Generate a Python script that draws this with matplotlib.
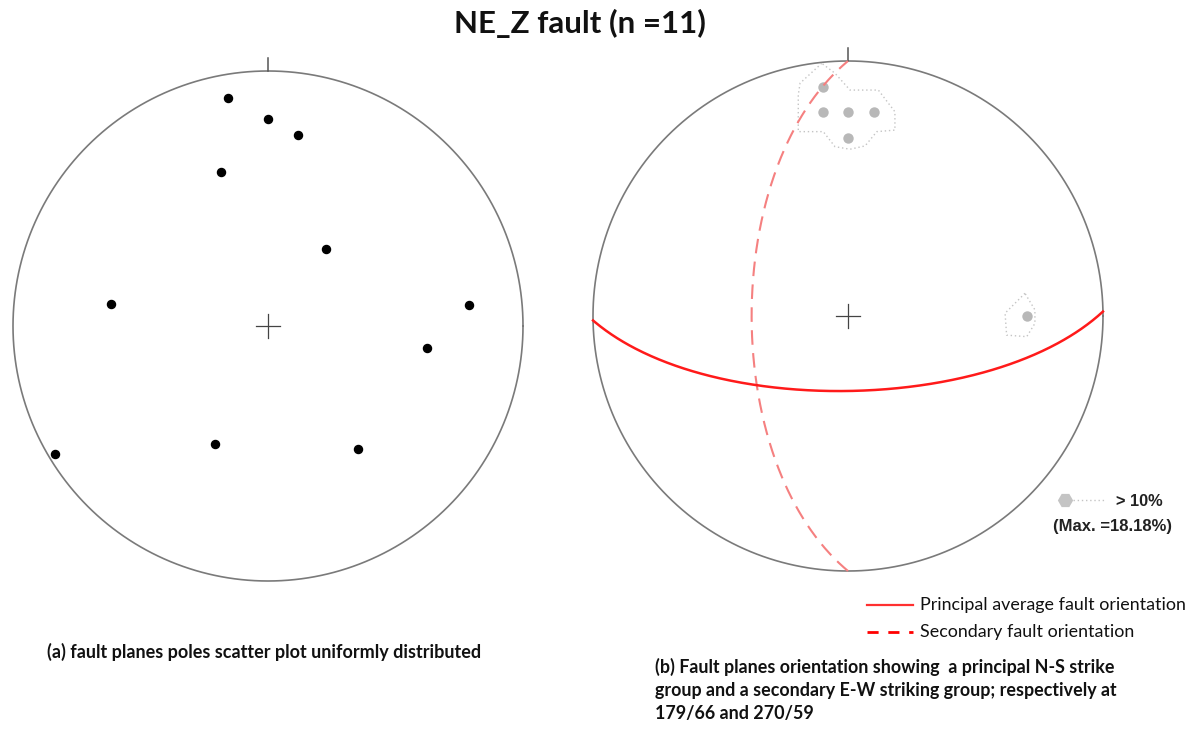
import numpy as np
import matplotlib
matplotlib.use("Agg")
import matplotlib.pyplot as plt
from matplotlib.lines import Line2D

# ---- data -------------------------------------------------------------
# (a) poles to fault planes: trend / plunge in degrees
pole_trend = [350, 0, 9, 343, 37, 278, 84, 98, 204, 144, 239]
pole_plunge = [10, 20, 25, 37, 59, 38, 22, 37, 48, 40, 3]

# (b) mean planes: dip direction / dip in degrees
principal_plane = (179, 66)
secondary_plane = (270, 59)

# (b) counting-grid nodes above the 10 % contour (net coordinates, E / N)
node_east = [-0.10, -0.10, 0.00, 0.10, 0.00, 0.70]
node_north = [0.90, 0.80, 0.80, 0.80, 0.70, 0.00]

# (b) 10 % density contour outlines (net coordinates, E / N)
contour_north_e = [-0.103, -0.188, -0.195, -0.195, -0.097, -0.051, 0.008, 0.067,
                   0.113, 0.184, 0.184, 0.119, 0.008, -0.051, -0.103]
contour_north_n = [0.991, 0.913, 0.867, 0.723, 0.723, 0.664, 0.654, 0.667,
                   0.723, 0.729, 0.801, 0.886, 0.886, 0.952, 0.991]
contour_east_e = [0.694, 0.616, 0.622, 0.701, 0.733, 0.733, 0.694]
contour_east_n = [0.089, 0.011, -0.075, -0.081, -0.029, 0.024, 0.089]

title = "NE_Z fault (n =11)"
caption_a = "(a) fault planes poles scatter plot uniformly distributed"
caption_b = ("(b) Fault planes orientation showing  a principal N-S strike\n"
             "group and a secondary E-W striking group; respectively at\n"
             "179/66 and 270/59")
legend_labels = ["Principal average fault orientation", "Secondary fault orientation"]
contour_label = "> 10%"
max_label = "(Max. =18.18%)"


# ---- equal-area (Schmidt) lower-hemisphere projection -----------------
def project(trend, plunge):
    t = np.radians(np.asarray(trend, float))
    p = np.radians(np.asarray(plunge, float))
    r = np.sqrt(2.0) * np.sin((np.pi / 2 - p) / 2)
    return r * np.sin(t), r * np.cos(t)


def great_circle(dip_dir, dip, n=361):
    dd, d = np.radians(dip_dir), np.radians(dip)
    s = dd - np.pi / 2
    a = np.linspace(0, np.pi, n)
    strike_v = np.array([np.sin(s), np.cos(s), 0.0])
    dip_v = np.array([np.cos(d) * np.sin(dd), np.cos(d) * np.cos(dd), np.sin(d)])
    v = np.outer(np.cos(a), strike_v) + np.outer(np.sin(a), dip_v)
    trend = np.degrees(np.arctan2(v[:, 0], v[:, 1]))
    plunge = np.degrees(np.arcsin(np.clip(v[:, 2], -1, 1)))
    return project(trend, plunge)


def draw_net(ax):
    th = np.linspace(0, 2 * np.pi, 721)
    ax.plot(np.cos(th), np.sin(th), color="#7a7a7a", lw=1.2, clip_on=False)
    ax.plot([0, 0], [1.0, 1.05], color="#555555", lw=1.1, clip_on=False)
    c = 0.047
    ax.plot([-c, c], [0, 0], color="#444444", lw=0.9)
    ax.plot([0, 0], [-c, c], color="#444444", lw=0.9)
    ax.set_xlim(-1, 1)
    ax.set_ylim(-1, 1)
    ax.axis("off")


W, H = 1192, 731
fig = plt.figure(figsize=(W / 100, H / 100), dpi=100)
fig.patch.set_facecolor("white")

R = 255
ax_a = fig.add_axes([(268 - R) / W, (H - 326 - R) / H, 2 * R / W, 2 * R / H])
ax_b = fig.add_axes([(848 - R) / W, (H - 316 - R) / H, 2 * R / W, 2 * R / H])

# (a) pole scatter
draw_net(ax_a)
px, py = project(pole_trend, pole_plunge)
ax_a.plot(px, py, "o", color="black", ms=5.8, clip_on=False)

# (b) contours and mean planes
draw_net(ax_b)
ax_b.plot(contour_north_e, contour_north_n, ls=(0, (1, 2)), color="#c4c4c4", lw=1.0)
ax_b.plot(contour_east_e, contour_east_n, ls=(0, (1, 2)), color="#c4c4c4", lw=1.0)
ax_b.plot(node_east, node_north, "o", color="#b8b8b8", ms=7.5, mec="none")
sx, sy = great_circle(*secondary_plane)
ax_b.plot(sx, sy, color="#f58080", lw=1.5, ls=(0, (7, 4)), clip_on=False)
gx, gy = great_circle(*principal_plane)
ax_b.plot(gx, gy, color="#ff1a1a", lw=1.8, clip_on=False)

# contour key
fig.add_artist(Line2D([1073 / W, 1104 / W], [1 - 500 / H] * 2, color="#c4c4c4",
                      lw=1.0, ls=(0, (1, 2))))
fig.add_artist(Line2D([1065 / W], [1 - 500 / H], marker="H", color="#c4c4c4",
                      ms=11, mec="none"))
fig.text(1116 / W, 1 - 502 / H, contour_label, fontsize=11.8, fontweight="bold",
         family="Liberation Sans", va="center", ha="left", color="#222222")
fig.text(1053 / W, 1 - 527 / H, max_label, fontsize=12, fontweight="bold",
         family="Liberation Sans", va="center", ha="left", color="#222222")

# legend
fig.add_artist(Line2D([867 / W, 913 / W], [1 - 605 / H] * 2, color="#ff3030", lw=1.6))
fig.add_artist(Line2D([867 / W, 913 / W], [1 - 632 / H] * 2, color="#ff0000", lw=2.0,
                      ls=(0, (4, 3.5))))
fig.text(920 / W, 1 - 605 / H, legend_labels[0], fontsize=12.9, family="Lato",
         va="center", ha="left", color="#111111")
fig.text(920 / W, 1 - 632 / H, legend_labels[1], fontsize=12.9, family="Lato",
         va="center", ha="left", color="#111111")

# titles and captions
fig.text(580 / W, 1 - 23 / H, title, fontsize=22.5, fontweight="bold", family="Lato",
         ha="center", va="center", color="#111111")
fig.text(47 / W, 1 - 652 / H, caption_a, fontsize=13, fontweight="bold", family="Lato",
         ha="left", va="center", color="#111111")
fig.text(655 / W, 1 - 690 / H, caption_b, fontsize=12.9, fontweight="bold", family="Lato",
         ha="left", va="center", color="#111111", linespacing=1.42)

fig.savefig("out.png", dpi=100, facecolor="white")
